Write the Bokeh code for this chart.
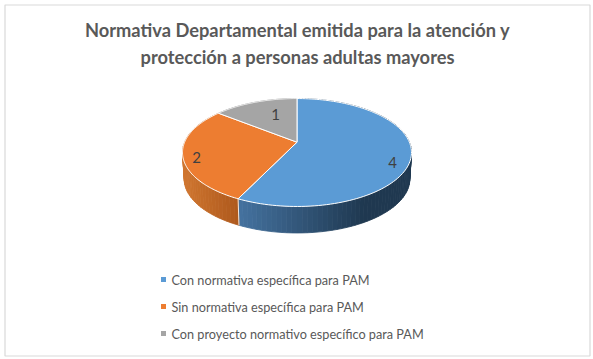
import numpy as np
from bokeh.plotting import figure
from bokeh.models import Range1d
from bokeh.core.properties import value
from bokeh.embed import file_html
from bokeh.resources import INLINE

categories = ["Con normativa específica para PAM", "Sin normativa específica para PAM", "Con proyecto normativo específico para PAM"]
values = [4, 2, 1]
colors = ["#5B9BD5", "#ED7D31", "#A5A5A5"]
title_lines = ["Normativa Departamental emitida para la atención y", "protección a personas adultas mayores"]
wall_left = [(70, 116, 162), (208, 118, 48), (140, 140, 140)]
wall_right = [(31, 56, 80), (172, 88, 28), (100, 100, 100)]
label_xy = [(392, 162), (196, 157), (275, 114)]
legend_y = [279, 306, 333]
title_y = [29, 56]

# perspective disc geometry (screen pixels)
CX, CY, A, B, PERSP = 296.5, 141.7, 112.4, 52.0, 0.191
DEPTH = 26.5
BOTTOM_SCALE = 0.985

FONT = value("Lato")

def project(theta, dy=0.0, scale=1.0):
    """theta: clockwise from the top of the disc, radians."""
    u, v = np.sin(theta), np.cos(theta)
    w = 1 + PERSP * v
    return CX + scale * A * u / w, CY + dy - B * v / w

p = figure(width=593, height=359, output_backend="svg", toolbar_location=None,
           x_range=Range1d(0, 593), y_range=Range1d(359, 0), min_border=0,
           outline_line_color=None, background_fill_color="white", border_fill_color="white")
p.axis.visible = False
p.grid.visible = False

# chart frame
p.quad(left=[4.5], right=[589.5], top=[4.5], bottom=[355.5], fill_color=None,
       line_color="#D9D9D9", line_width=1.2)

total = sum(values)
edges = np.concatenate([[0], np.cumsum(values)]) / total * 2 * np.pi

# side walls, with a left-to-right shading
for i in range(len(values)):
    th = np.linspace(edges[i], edges[i + 1], max(int(values[i] * 24), 2) + 1)
    for a, b in zip(th[:-1], th[1:]):
        ax, ay = project(a)
        bx, by = project(b)
        cx2, cy2 = project(b, DEPTH, BOTTOM_SCALE)
        dx2, dy2 = project(a, DEPTH, BOTTOM_SCALE)
        if i == 0:
            f = np.clip((max(ax, bx) - 237) / 130, 0, 1)
        else:
            f = np.clip((min(ax, bx) - 182) / 56, 0, 1)
        rgb = tuple(int(l + (r - l) * f) for l, r in zip(wall_left[i], wall_right[i]))
        col = "#%02x%02x%02x" % rgb
        p.patch([ax, bx, cx2, dx2], [ay, by, cy2, dy2], fill_color=col, line_color=col, line_width=0.8)

# white cut between walls at the front
fx, fy = project(edges[1])
gx, gy = project(edges[1], DEPTH, BOTTOM_SCALE)
p.line([fx, gx], [fy, gy], line_color="white", line_width=1, line_alpha=0.85)

# top faces
for i in range(len(values)):
    th = np.linspace(edges[i], edges[i + 1], 120)
    x, y = project(th)
    p.patch(np.r_[CX, x], np.r_[CY, y], fill_color=colors[i], line_color="white",
            line_width=1, line_join="round")

# data labels
p.text([xy[0] for xy in label_xy], [xy[1] for xy in label_xy], text=[str(v) for v in values],
       text_font=FONT, text_font_size="15px", text_color="#404040",
       text_align="center", text_baseline="middle")

# title
p.text([297] * 2, title_y, text=title_lines, text_font=FONT, text_font_size="18.3px",
       text_font_style="bold", text_color="#595959", text_align="center", text_baseline="middle")

# legend
p.scatter([163] * 3, legend_y, marker="square", size=5, fill_color=colors, line_color=None)
p.text([171] * 3, legend_y, text=categories, text_font=FONT, text_font_size="12.7px",
       text_color="#595959", text_align="left", text_baseline="middle")

open("out.html", "w").write(file_html(p, INLINE))
